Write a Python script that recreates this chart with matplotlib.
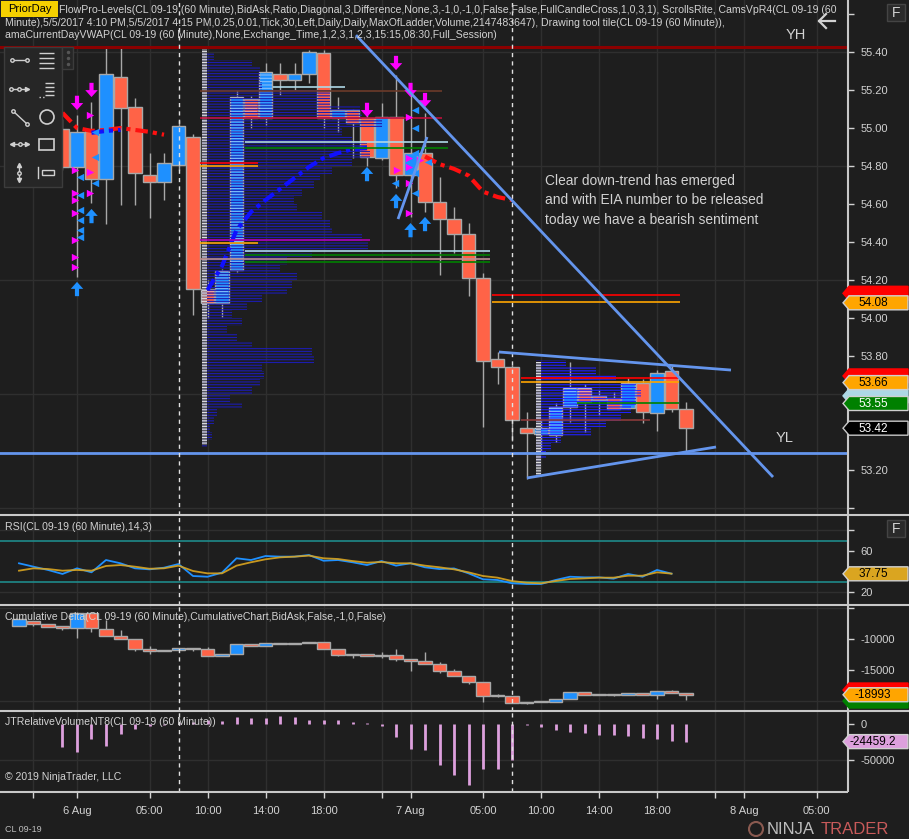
import matplotlib
matplotlib.use('Agg')
import matplotlib.pyplot as plt
from matplotlib.patches import Rectangle, Polygon, Circle
import numpy as np

plt.rcParams['font.family'] = ['Liberation Sans', 'DejaVu Sans']
plt.rcParams['hatch.linewidth'] = 0.8

BG = '#1e1e1e'
GRID = '#2f2f2f'
TXT = '#d2d2d2'
UP = '#1e90ff'
DN = '#ff6347'
EDGE = '#a8a8a8'
W, H = 909, 839
PLOT_W = 848

# ---- data: one bar per hour, bar 0 = 6 Aug 00:00 ----
price_idx = list(range(-1, 43))
price_open = [54.995, 54.795, 54.984, 54.732, 55.268, 55.11, 54.753, 54.716, 54.805, 54.953,
              54.153, 54.079, 54.253, 55.153, 55.053, 55.284, 55.253, 55.284, 55.395, 55.053,
              55.095, 55.053, 54.842, 55.058, 54.753, 54.868, 54.61, 54.521, 54.442, 54.21,
              53.784, 53.742, 53.421, 53.39, 53.384, 53.532, 53.632, 53.59, 53.579, 53.526,
              53.658, 53.50, 53.721, 53.521]
price_high = [55.05, 55.07, 55.137, 55.43, 55.43, 55.158, 54.868, 54.868, 55.04, 54.968,
              54.20, 54.26, 55.20, 55.17, 55.34, 55.34, 55.34, 55.41, 55.41, 55.163,
              55.10, 55.08, 55.13, 55.28, 55.184, 55.08, 54.742, 54.584, 54.50, 54.237,
              53.82, 53.75, 53.505, 53.47, 53.55, 53.77, 53.65, 53.62, 53.61, 53.684,
              53.68, 53.726, 53.747, 53.558]
price_low = [54.78, 54.216, 54.605, 54.495, 54.595, 54.595, 54.526, 54.621, 54.779, 54.016,
             54.00, 54.005, 54.24, 55.00, 55.016, 55.174, 55.20, 55.237, 55.00, 54.98,
             54.84, 54.80, 54.83, 54.684, 54.532, 54.558, 54.226, 54.342, 54.116, 53.426,
             53.653, 53.35, 53.153, 53.30, 53.347, 53.45, 53.40, 53.49, 53.52, 53.52,
             53.447, 53.405, 53.505, 53.295]
price_close = [54.795, 54.979, 54.732, 55.284, 55.105, 54.763, 54.716, 54.816, 55.011, 54.153,
               54.079, 54.247, 55.163, 55.053, 55.295, 55.253, 55.284, 55.40, 55.053, 55.095,
               55.026, 54.847, 55.058, 54.753, 54.868, 54.61, 54.521, 54.442, 54.21, 53.774,
               53.742, 53.463, 53.395, 53.42, 53.532, 53.632, 53.558, 53.57, 53.521, 53.658,
               53.505, 53.711, 53.521, 53.421]
footprint_bars = [9, 10, 11, 12, 13, 32, 33, 34, 35]

# volume profiles (price level, volume)
vp2_start = 8.62
vp2_prices = np.round(np.arange(55.38, 53.33, -0.04), 2)
vp2_vol = [12, 50, 58, 58, 60, 128, 128, 158, 160, 180, 140, 150, 165, 168, 150, 130, 118, 112,
           100, 92, 95, 120, 128, 130, 160, 166, 110, 85, 78, 95, 90, 85, 60, 45, 30, 40, 25,
           35, 50, 110, 112, 60, 62, 58, 50, 28, 40, 15, 12, 8, 10, 5]
vp3_start = 31.66
vp3_prices = np.round(np.arange(53.76, 53.23, -0.04), 2)
vp3_vol = [30, 60, 80, 100, 105, 100, 95, 85, 70, 55, 25, 15, 10, 5]
VP_PER_BAR = 14.5

# FlowPro levels: price, from bar, to bar, colour
lvl_price = [55.216, 55.195, 55.053, 54.926, 54.895, 54.816, 54.800, 54.411, 54.395, 54.353,
             54.332, 54.311, 54.295, 54.121, 54.084, 53.684, 53.663, 53.553, 53.463]
lvl_x0 = [13.5, 8.5, 8.5, 11.6, 11.6, 8.5, 8.5, 8.5, 8.5, 11.6, 11.6, 8.5, 11.6, 28.6, 28.6,
          30.6, 30.6, 34.5, 30.6]
lvl_x1 = [18.5, 25.2, 25.2, 25.6, 25.6, 12.5, 12.5, 20.2, 12.5, 28.5, 28.5, 28.5, 28.5, 41.6,
          41.6, 41.5, 41.5, 41.5, 39.5]
lvl_color = ['#add8e6', '#6b3a2a', '#c0103c', '#add8e6', '#008000', '#ff0000', '#ffa500',
             '#b000b0', '#ffa500', '#add8e6', '#008000', '#bc8f8f', '#008000', '#ff0000',
             '#ffa500', '#ff0000', '#ffa500', '#008000', '#8b3a3a']
yh_price = 55.426
yl_price = 53.29

# VWAP lines
vwap_red1_x = [-1, 0, 1, 2, 3, 4, 5, 6]
vwap_red1_y = [55.08, 55.0, 54.985, 54.99, 55.0, 54.99, 54.98, 54.965]
vwap_blue1_x = [1, 2, 3]
vwap_blue1_y = [54.975, 54.985, 54.99]
vwap_blue2_x = [9, 10, 11, 12, 13, 14, 15, 16, 17, 18, 19, 20]
vwap_blue2_y = [54.147, 54.274, 54.463, 54.558, 54.621, 54.679, 54.737, 54.795, 54.842,
                54.868, 54.889, 54.895]
vwap_red3_x = [24, 25, 26, 27, 28, 29, 30]
vwap_red3_y = [54.85, 54.81, 54.785, 54.75, 54.665, 54.637, 54.621]

# signal arrows (bar, tip price)
sell_x = [0, 1, 20, 22, 23, 24]
sell_y = [55.095, 55.163, 55.058, 55.305, 55.163, 55.11]
buy_x = [0, 1, 20, 22, 23, 24]
buy_y = [54.19, 54.574, 54.795, 54.653, 54.50, 54.532]
tri_mag_x = [-0.14, -0.14, -0.14, -0.14, -0.14, -0.14, -0.14, 0.9, 0.9, 0.9, 22.07, 22.9,
             22.9, 22.9, 22.9, 22.9, 23.66]
tri_mag_y = [54.779, 54.658, 54.621, 54.553, 54.411, 54.321, 54.268, 55.068, 54.768, 54.658,
             54.779, 55.058, 54.842, 54.795, 54.711, 54.553, 54.832]
tri_blue_x = [0.21, 0.21, 0.21, 0.21, 0.21, 0.21, 1.24, 1.24, 1.24, 21.93, 23.31, 23.31,
              23.31, 23.31, 23.31, 24.21]
tri_blue_y = [54.742, 54.647, 54.568, 54.516, 54.463, 54.426, 54.979, 54.847, 54.711, 54.711,
              55.095, 55.0, 54.868, 54.763, 54.658, 54.821]

# drawn trend lines (bar, price) pairs
trend_lines = [([19.24, 48.0], [55.489, 53.163]),
               ([29.1, 45.1], [53.821, 53.726]),
               ([31.03, 44.07], [53.158, 53.321]),
               ([22.14, 24.14], [54.521, 54.953])]

# RSI (bars -4..41)
rsi_idx = list(range(-4, 42))
rsi_val = [48.0, 44.7, 41.5, 37.6, 43.1, 39.2, 51.2, 48.0, 43.1, 42.1, 43.7, 47.3, 35.6, 34.9,
           38.9, 52.9, 51.2, 55.1, 54.5, 54.5, 56.1, 50.5, 51.2, 49.0, 46.3, 50.2, 45.7, 48.0,
           44.1, 42.4, 43.0, 38.2, 32.4, 31.7, 28.5, 27.8, 27.8, 31.7, 34.9, 34.3, 34.3, 33.0,
           37.6, 34.9, 41.5, 37.9]
rsi_avg = [40.8, 43.1, 42.4, 40.8, 41.5, 40.8, 45.4, 46.3, 44.7, 42.7, 43.1, 45.7, 40.5, 38.2,
           38.2, 45.7, 49.0, 51.9, 53.8, 54.5, 55.5, 52.9, 52.2, 50.2, 48.6, 49.3, 48.0, 48.0,
           45.7, 44.1, 42.1, 39.2, 35.6, 34.0, 30.7, 29.1, 28.5, 30.7, 32.7, 33.3, 34.0, 34.0,
           35.9, 35.9, 39.2, 37.9]

# cumulative delta (bars -4..42)
cd_idx = list(range(-4, 43))
cd_open = [-7903, -7097, -7581, -7903, -8226, -5806, -8387, -9516, -10000, -11613, -11935,
           -11774, -11452, -11613, -12742, -12419, -10806, -11129, -10645, -10806, -10700,
           -10484, -11613, -12581, -12419, -12742, -12581, -13226, -13548, -14032, -15161,
           -15968, -16935, -19032, -19194, -20323, -20161, -20161, -19677, -18548, -19032,
           -18871, -19032, -18710, -19032, -18387, -18710]
cd_close = [-6774, -7581, -8065, -8226, -5806, -8226, -9516, -10000, -11613, -11935, -11774,
            -11452, -11613, -12742, -12419, -10806, -11129, -10645, -10806, -10700, -10484,
            -11613, -12581, -12419, -12742, -12581, -13226, -13548, -14032, -15161, -15968,
            -16935, -19194, -19194, -20323, -20161, -20000, -19677, -18548, -19032, -18871,
            -19032, -18710, -19032, -18387, -18710, -18993]
cd_high = [-6774, -7097, -7581, -7903, -5806, -5806, -6935, -8548, -10000, -11129, -11774,
           -11452, -11452, -11290, -12419, -10806, -10806, -10645, -10645, -10700, -10484,
           -10484, -11613, -12419, -12419, -12100, -11613, -13226, -12097, -13700, -14900,
           -15968, -16935, -18800, -19194, -20161, -20000, -19677, -18548, -18548, -18871,
           -18871, -18710, -18710, -18387, -18226, -18710]
cd_low = [-7903, -7903, -8065, -8548, -9839, -8871, -9516, -10000, -11935, -12419, -11935,
          -11774, -11935, -12742, -12742, -12419, -11129, -11129, -10806, -10806, -10700,
          -11613, -12742, -13000, -12742, -13000, -13548, -15161, -14032, -15484, -15968,
          -17258, -20161, -19400, -20323, -20500, -20161, -20161, -19677, -19032, -19032,
          -19200, -19032, -19032, -19677, -18710, -19839]

# JT relative volume (bars -1..42)
vol_idx = list(range(-1, 43))
vol_val = [-31500, -38400, -21300, -30100, -14400, -7400, -3000, -1500, 2000, 3000, 5000, 4600,
           10200, 8800, 8800, 11100, 9300, 5600, 5600, 5600, 3200, 1500, -2800, -17600, -35200,
           -36100, -56900, -70800, -84700, -63000, -63000, -50000, -1400, -3700, -8300, -10600,
           -13000, -15300, -15300, -16200, -19900, -20800, -23100, -24459]

tick_pos = [-3, 0, 5, 9, 13, 17, 21, 23, 28, 32, 36, 40, 44, 46, 51]
tick_lbl = ['', '6 Aug', '05:00', '10:00', '14:00', '18:00', '', '7 Aug', '05:00', '10:00',
            '14:00', '18:00', '', '8 Aug', '05:00']
session_breaks = [7, 30]

# ---- figure ----
fig = plt.figure(figsize=(W / 100, H / 100), dpi=100)
fig.patch.set_facecolor(BG)


def panel(top, bottom, ylim):
    a = fig.add_axes([0, 1 - bottom / H, PLOT_W / W, (bottom - top) / H])
    a.set_facecolor(BG)
    a.set_xlim(-5.31, 53.17)
    a.set_ylim(*ylim)
    for s in a.spines.values():
        s.set_visible(False)
    a.yaxis.tick_right()
    a.tick_params(axis='y', colors=TXT, labelsize=8, length=4, pad=5, width=1)
    a.set_xticks(tick_pos)
    a.tick_params(axis='x', length=0, labelbottom=False)
    for t in tick_pos:
        a.axvline(t, color=GRID, lw=1, zorder=0)
    for b in session_breaks:
        a.axvline(b, color='#e0e0e0', lw=1, ls=(0, (3, 3)), zorder=8)
    return a


ax = panel(0, 515, (52.963, 55.674))
ax_rsi = panel(515, 605, (7.32, 95.12))
ax_cd = panel(605, 711, (-21613, -4516))
ax_vol = panel(711, 792, (-94444, 18056))


def candles(a, idx, o, h, l, c, min_body, hatched=()):
    for i, oo, hh, ll, cc in zip(idx, o, h, l, c):
        a.vlines(i, ll, hh, color=EDGE, lw=1, zorder=3)
        col = UP if cc > oo else DN
        body = max(abs(cc - oo), min_body)
        a.add_patch(Rectangle((i - 0.46, min(oo, cc)), 0.92, body, fc=col, ec=EDGE, lw=1,
                              zorder=4))
        if i in hatched:
            a.add_patch(Rectangle((i - 0.42, min(oo, cc)), 0.84, body, fill=False,
                                  ec='#d8e4f4', lw=0, hatch='-----', alpha=0.55, zorder=4.5))


# main price panel
for g in [53.0, 53.6, 54.2, 54.8, 55.4]:
    ax.axhline(g, color=GRID, lw=1, zorder=0)
main_ticks = np.round(np.arange(53.0, 55.61, 0.2), 2)
hidden_ticks = (53.0, 53.4, 53.6, 55.6)
ax.set_yticks(main_ticks)
ax.set_yticklabels(['' if t in hidden_ticks else f'{t:.2f}' for t in main_ticks])

candles(ax, price_idx, price_open, price_high, price_low, price_close, 0.006, footprint_bars)
ax.barh(vp2_prices, np.array(vp2_vol) / VP_PER_BAR, height=0.04, left=vp2_start,
        fill=False, edgecolor='#1c1cb0', lw=0, hatch='------', zorder=5)
ax.barh(vp3_prices, np.array(vp3_vol) / VP_PER_BAR, height=0.04, left=vp3_start,
        fill=False, edgecolor='#2020ff', lw=0, hatch='------', zorder=5)
ax.add_patch(Rectangle((vp2_start, 53.33), 0.34, 55.42 - 53.33, fc='#7c7c8c', alpha=0.6,
                       ec='none', zorder=5))
ax.add_patch(Rectangle((vp2_start, 53.33), 0.34, 55.42 - 53.33, fill=False, ec='#e0e0e0',
                       lw=0, hatch='------', zorder=5))
ax.add_patch(Rectangle((vp3_start, 53.17), 0.34, 53.77 - 53.17, fc='#7c7c8c', alpha=0.6,
                       ec='none', zorder=5))
ax.add_patch(Rectangle((vp3_start, 53.17), 0.34, 53.77 - 53.17, fill=False, ec='#e0e0e0',
                       lw=0, hatch='------', zorder=5))
for p, x0, x1, col in zip(lvl_price, lvl_x0, lvl_x1, lvl_color):
    ax.hlines(p, x0, x1, color=col, lw=1.2, zorder=6)
ax.axhline(yh_price, color='#8b0000', lw=2.2, zorder=6)
ax.axhline(yl_price, color='#6495ed', lw=2, zorder=6)

dashdot = (0, (3, 1.2, 1, 1.2))
ax.plot(vwap_red1_x, vwap_red1_y, color='#ff1010', lw=3, ls=dashdot, zorder=5)
ax.plot(vwap_blue1_x, vwap_blue1_y, color='#1010ff', lw=3, ls=dashdot, zorder=5)
ax.plot(vwap_blue2_x, vwap_blue2_y, color='#1010ff', lw=3, ls=dashdot, zorder=5)
ax.plot(vwap_red3_x, vwap_red3_y, color='#ff1010', lw=3, ls=dashdot, zorder=5)

ax.scatter(tri_mag_x, tri_mag_y, marker='>', s=28, color='#ff00ff', lw=0, zorder=7)
ax.scatter(tri_blue_x, tri_blue_y, marker='<', s=28, color=UP, lw=0, zorder=7)
arrow_len = 0.075
for x, y in zip(sell_x, sell_y):
    ax.annotate('', xy=(x, y), xytext=(x, y + arrow_len), zorder=9,
                arrowprops=dict(facecolor='#ff00ff', edgecolor='none', width=3,
                                headwidth=9, headlength=5, shrink=0))
for x, y in zip(buy_x, buy_y):
    ax.annotate('', xy=(x, y), xytext=(x, y - arrow_len), zorder=9,
                arrowprops=dict(facecolor=UP, edgecolor='none', width=3,
                                headwidth=9, headlength=5, shrink=0))
for xs, ys in trend_lines:
    ax.plot(xs, ys, color='#6495ed', lw=2, zorder=9, solid_capstyle='butt')

# RSI panel
ax_rsi.axhline(80, color=GRID, lw=1, zorder=0)
ax_rsi.axhline(20, color=GRID, lw=1, zorder=0)
ax_rsi.axhline(70, color='#1f8a8a', lw=1.2, zorder=1)
ax_rsi.axhline(30, color='#1f8a8a', lw=1.2, zorder=1)
ax_rsi.plot(rsi_idx, rsi_val, color=UP, lw=1.3, zorder=3)
ax_rsi.plot(rsi_idx, rsi_avg, color='#daa520', lw=1.3, zorder=3, alpha=0.9)
ax_rsi.set_yticks([20, 40, 60, 80])
ax_rsi.set_yticklabels(['20', '', '60', ''])

# cumulative delta panel
ax_cd.axhline(-5000, color=GRID, lw=1, zorder=0)
ax_cd.axhline(-20000, color=GRID, lw=1, zorder=0)
candles(ax_cd, cd_idx, cd_open, cd_high, cd_low, cd_close, 60)
ax_cd.set_yticks([-20000, -15000, -10000, -5000])
ax_cd.set_yticklabels(['', '-15000', '-10000', ''])

# relative volume panel
ax_vol.axhline(-50000, color=GRID, lw=1, zorder=0)
ax_vol.vlines(vol_idx, 0, vol_val, color='#dda0dd', lw=2, zorder=3)
ax_vol.set_yticks([-50000, 0])
ax_vol.set_yticklabels(['-50000', '0'])
ax_vol.set_xticklabels(tick_lbl)
ax_vol.tick_params(axis='x', length=4, width=1, colors=TXT, labelsize=8, pad=6,
                   labelbottom=True)

# ---- overlay in pixel coordinates ----
ov = fig.add_axes([0, 0, 1, 1], zorder=10)
ov.set_xlim(0, W)
ov.set_ylim(H, 0)
ov.axis('off')

ov.hlines([515, 605, 711], 0, W, color='#c8c8c8', lw=1.5)
ov.hlines(792, 0, PLOT_W, color='#c8c8c8', lw=1.5)
ov.vlines(PLOT_W, 0, 792, color='#c8c8c8', lw=1.5)


def flag(a, val, txt, fc, tc, ec=None, h=14):
    _, yp = ov.transData.inverted().transform(a.transData.transform((0, val)))
    ov.add_patch(Polygon([(843, yp), (849, yp - h / 2), (908, yp - h / 2), (908, yp + h / 2),
                          (849, yp + h / 2)], closed=True, fc=fc, ec=ec or fc, lw=1, zorder=5))
    if txt:
        ov.text(873, yp + 0.5, txt, color=tc, fontsize=8.5, ha='center', va='center', zorder=6)


# flags partly covered by the next one carry no readable text
flag(ax, 54.13, '', '#ff0000', 'black')
flag(ax, 54.08, '54.08', '#ffa500', 'black', ec='#d0d0d0')
flag(ax, 53.695, '', '#ff0000', 'black')
flag(ax, 53.59, '', '#add8e6', 'black')
flag(ax, 53.66, '53.66', '#ffa500', 'black', ec='#d0d0d0')
flag(ax, 53.55, '53.55', '#008000', 'white', ec='#d0d0d0')
flag(ax, 53.42, '53.42', 'black', 'white', ec='#c8c8c8')
flag(ax_rsi, 37.75, '37.75', '#daa520', 'black', ec='#d0d0d0')
flag(ax_cd, -18226, '', '#ff0000', 'black')
flag(ax_cd, -20000, '', '#008000', 'white')
flag(ax_cd, -18993, '-18993', '#ffa500', 'black', ec='#d0d0d0')
flag(ax_vol, -24459.2, '-24459.2', '#dda0dd', 'black', ec='#d0d0d0')

# header
ov.add_patch(Rectangle((1, 1), 57, 16, fc='#f5d000', ec='none'))
ov.text(29.5, 9.5, 'PriorDay', color='black', fontsize=8, ha='center', va='center')
hdr = dict(color=TXT, fontsize=7.6, va='center', ha='left')
ov.text(59, 10, 'FlowPro-Levels(CL 09-19 (60 Minute),BidAsk,Ratio,Diagonal,3,Difference,None,3,'
        '-1,0,-1,0,False,False,FullCandleCross,1,0,3,1), ScrollsRite, CamsVpR4(CL 09-19 (60', **hdr)
ov.text(5, 22.5, 'Minute),5/5/2017 4:10 PM,5/5/2017 4:15 PM,0.25,0.01,Tick,30,Left,Daily,Daily,'
        'MaxOfLadder,Volume,2147483647), Drawing tool tile(CL 09-19 (60 Minute)),', **hdr)
ov.text(5, 35, 'amaCurrentDayVWAP(CL 09-19 (60 Minute),None,Exchange_Time,1,2,3,1,2,3,15:15,'
        '08:30,Full_Session)', **hdr)

ov.text(786, 35, 'YH', color=TXT, fontsize=10.5, va='center', ha='left')
ov.text(776, 438, 'YL', color=TXT, fontsize=10.5, va='center', ha='left')
# back arrow icon
ov.plot([819, 835], [21, 21], color=TXT, lw=1.6)
ov.plot([826, 819, 826], [14, 21, 28], color=TXT, lw=1.6)
for fy in (4, 520):
    ov.add_patch(Rectangle((887, fy), 18, 17, fc='#2a2a2a', ec='#444444', lw=1))
    ov.text(896, fy + 9, 'F', color=TXT, fontsize=10, va='center', ha='center')

ov.text(545, 200.5, 'Clear down-trend has emerged\nand with EIA number to be released\n'
        'today we have a bearish sentiment', color=TXT, fontsize=9.9, va='center',
        ha='left', linespacing=1.5)

ov.text(5, 527, 'RSI(CL 09-19 (60 Minute),14,3)', color=TXT, fontsize=7.6, va='center')
ov.text(5, 617, 'Cumulative Delta(CL 09-19 (60 Minute),CumulativeChart,BidAsk,False,-1,0,False)',
        color=TXT, fontsize=7.6, va='center')
ov.text(5, 722, 'JTRelativeVolumeNT8(CL 09-19 (60 Minute))', color=TXT, fontsize=7.6,
        va='center')
ov.text(5, 777, '\u00a9 2019 NinjaTrader, LLC', color=TXT, fontsize=7.6, va='center')
ov.text(5, 829, 'CL 09-19', color='#bdbdbd', fontsize=6.5, va='center')
ov.add_patch(Circle((756, 829), 7, fc='none', ec='#8a5a50', lw=1.5))
ov.text(767, 829, 'NINJA', color='#bdbdbd', fontsize=12, va='center', ha='left')
ov.text(821, 829, 'TRADER', color='#c85a5a', fontsize=12, va='center', ha='left')

# drawing tool bar
ov.add_patch(Rectangle((4, 47), 58, 140, fc='#262626', ec='#3c3c3c', lw=1))
ov.add_patch(Rectangle((62, 47), 11, 22, fc='#262626', ec='#3c3c3c', lw=1))
ov.plot([67.5] * 3, [52, 58, 64], 'o', color='#555555', ms=1.5)
ic = '#d0d0d0'
ov.plot([12, 27], [60, 60], color=ic, lw=1, marker='o', ms=2.5, mfc='#262626')
ov.hlines([53, 58, 63, 68], 39, 54, color=ic, lw=1)
ov.plot([11, 27], [89, 89], color=ic, lw=1)
ov.plot([11, 19], [89, 89], 'o', color=ic, ms=2.5, mfc='#262626')
ov.plot([27], [89], '>', color=ic, ms=3)
ov.hlines([83, 87, 91, 95], 45, 54, color=ic, lw=1)
ov.plot([39, 44], [97, 97], color=ic, lw=1, ls=':')
ov.plot([13, 27], [111, 124], color=ic, lw=1, marker='o', ms=2.5, mfc='#262626')
ov.add_patch(Circle((47, 117), 7, fc='none', ec=ic, lw=1.2))
ov.plot([12, 27], [144, 144], color=ic, lw=1)
ov.plot([12], [144], '<', color=ic, ms=3)
ov.plot([27], [144], '>', color=ic, ms=3)
ov.plot([19.5], [144], 'o', color=ic, ms=2.5, mfc='#262626')
ov.add_patch(Rectangle((39, 139), 15, 11, fc='none', ec=ic, lw=1.2))
ov.plot([19, 19], [165, 180], color=ic, lw=1)
ov.plot([19], [165], '^', color=ic, ms=3)
ov.plot([19], [180], 'v', color=ic, ms=3)
ov.plot([19], [172.5], 'o', color=ic, ms=2.5, mfc='#262626')
ov.add_patch(Rectangle((42, 170), 12, 5, fc='none', ec=ic, lw=1))
ov.plot([38, 38], [167, 178], color=ic, lw=1)

fig.savefig('out.png', dpi=100, facecolor=BG)
